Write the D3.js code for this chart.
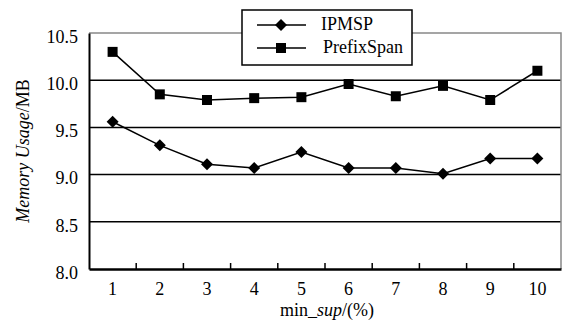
<!DOCTYPE html>
<html><head><meta charset="utf-8">
<script src="https://cdn.jsdelivr.net/npm/d3@7"></script>
<style>body{margin:0;background:#fff}svg{display:block}</style>
</head><body><svg id="c" width="562" height="322"></svg>
<script>
const categories = ["1","2","3","4","5","6","7","8","9","10"];
const ipmsp = [9.56, 9.31, 9.11, 9.07, 9.24, 9.07, 9.07, 9.01, 9.17, 9.17];
const prefixSpan = [10.30, 9.85, 9.79, 9.81, 9.82, 9.96, 9.83, 9.94, 9.79, 10.10];
const yTicks = [8.0, 8.5, 9.0, 9.5, 10.0, 10.5];
const seriesNames = ["IPMSP", "PrefixSpan"];

const FONT = '"Liberation Serif", "Times New Roman", serif';
const FS = "18px";
const svg = d3.select("#c");
const m = {l: 89, r: 561, t: 33, b: 269};
const x = d3.scaleBand().domain(categories).range([m.l, m.r]);
const y = d3.scaleLinear().domain([8, 10.5]).range([m.b, m.t]);

// gridlines
svg.append("g").selectAll("line").data(yTicks.filter(v => v > 8 && v < 10.5)).join("line")
  .attr("x1", m.l).attr("x2", m.r).attr("y1", d => y(d)).attr("y2", d => y(d))
  .attr("stroke", "#000").attr("stroke-width", 1.5);
// top and right border (gray)
svg.append("path").attr("d", `M${m.l},${m.t}H${m.r}V${m.b}`).attr("fill", "none")
  .attr("stroke", "#888").attr("stroke-width", 1.5);

// y axis
const ya = svg.append("g").attr("transform", `translate(${m.l},0)`)
  .call(d3.axisLeft(y).tickValues(yTicks).tickFormat(d3.format(".1f")).tickSize(0).tickPadding(11));
ya.select(".domain").attr("stroke", "#000").attr("stroke-width", 2);
ya.selectAll("text").attr("dy", "0.52em").style("font-size", FS).style("font-family", FONT).attr("fill", "#000");

// x axis
const xa = svg.append("g").attr("transform", `translate(0,${m.b})`)
  .call(d3.axisBottom(x).tickSize(0).tickPadding(13));
xa.select(".domain").attr("stroke", "#000").attr("stroke-width", 2.5);
xa.selectAll("text").style("font-size", FS).style("font-family", FONT).attr("fill", "#000");
// inward tick marks at band boundaries
svg.append("g").selectAll("line").data(categories.slice(1)).join("line")
  .attr("x1", d => x(d)).attr("x2", d => x(d)).attr("y1", m.b).attr("y2", m.b - 6)
  .attr("stroke", "#000").attr("stroke-width", 1.5);

const line = d3.line().x((d, i) => x(categories[i]) + x.bandwidth() / 2).y(d => y(d));
function drawSeries(data, shape) {
  svg.append("path").datum(data).attr("d", line).attr("fill", "none").attr("stroke", "#000").attr("stroke-width", 1.5);
  svg.append("g").selectAll("path").data(data).join("path")
    .attr("transform", (d, i) => `translate(${x(categories[i]) + x.bandwidth() / 2},${y(d)})`)
    .attr("d", shape).attr("fill", "#000");
}
const diamond = "M0,-6L6,0L0,6L-6,0Z";
const square = "M-5,-5H5V5H-5Z";
drawSeries(prefixSpan, square);
drawSeries(ipmsp, diamond);

// legend
const lg = svg.append("g");
lg.append("rect").attr("x", 242).attr("y", 10).attr("width", 170).attr("height", 55)
  .attr("fill", "#fff").attr("stroke", "#000").attr("stroke-width", 1.5);
[diamond, square].forEach((s, i) => {
  const yy = 25 + i * 23;
  lg.append("line").attr("x1", 257).attr("x2", 306).attr("y1", yy).attr("y2", yy).attr("stroke", "#000").attr("stroke-width", 1.5);
  lg.append("path").attr("d", s).attr("transform", `translate(281,${yy})`).attr("fill", "#000");
  lg.append("text").attr("x", i === 0 ? 321 : 323).attr("y", yy + (i === 0 ? 4.5 : 5))
    .style("font-size", FS).style("font-family", FONT).text(seriesNames[i]);
});

// axis titles
const yt = svg.append("text").attr("transform", "translate(29,151) rotate(-90)").attr("text-anchor", "middle")
  .style("font-size", FS).style("font-family", FONT);
yt.append("tspan").attr("font-style", "italic").text("Memory Usage");
yt.append("tspan").text("/MB");
const xt = svg.append("text").attr("x", 327).attr("y", 316).attr("text-anchor", "middle")
  .style("font-size", FS).style("font-family", FONT);
xt.append("tspan").text("min_");
xt.append("tspan").attr("font-style", "italic").text("sup");
xt.append("tspan").text("/(%)");
</script></body></html>
